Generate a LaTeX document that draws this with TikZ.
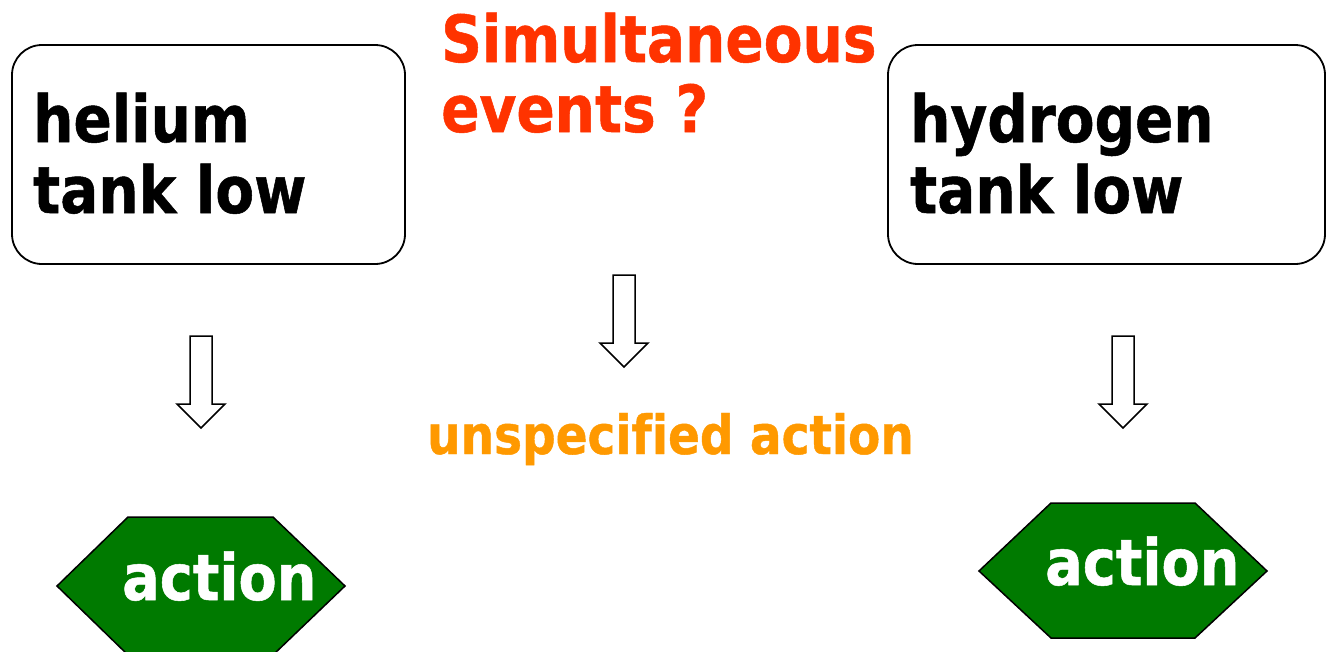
\documentclass[tikz,border=0pt]{standalone}
\usepackage{fontspec}
\newfontfamily\slidefont{DejaVu Sans}[FakeStretch=0.87, Ligatures=NoCommon, BoldFeatures={FakeBold=0.8}]
\definecolor{titlered}{HTML}{FF3300}
\definecolor{notered}{HTML}{FF9900}
\definecolor{actgreen}{HTML}{007A00}
\tikzset{
  eventbox/.style={draw=black, line width=1.8pt, rounded corners=30pt},
  eventtext/.style={anchor=base west, inner sep=0pt, align=left,
    font=\slidefont\bfseries\fontsize{65}{71}\selectfont},
  titletext/.style={anchor=base west, inner sep=0pt, align=left, text=titlered,
    font=\slidefont\bfseries\fontsize{65}{70}\selectfont},
  notetext/.style={anchor=base west, inner sep=0pt, text=notered,
    font=\slidefont\bfseries\fontsize{54}{60}\selectfont},
  hexshape/.style={draw=black, line width=1.5pt, fill=actgreen},
  acttext/.style={anchor=base west, inner sep=0pt, text=white,
    font=\slidefont\bfseries\fontsize{64}{70}\selectfont},
  downarrow/.style={draw=black, line width=1.5pt, fill=white},
  pics/blockdown/.style={code={
    \path[downarrow] (-11,0) -- (11,0) -- (11,68) -- (24,68) -- (0,92)
      -- (-24,68) -- (-11,68) -- cycle;
  }}
}
\begin{document}
\begin{tikzpicture}[x=1pt, y=-1pt]
  \useasboundingbox (0,0) rectangle (1326,651);

  % event boxes
  \draw[eventbox] (12,45) rectangle (405,264);
  \node[eventtext] (helium) at (33,213) {helium\\tank low};
  \draw[eventbox] (888,45) rectangle (1325,264);
  \node[eventtext] (hydrogen) at (910,213) {hydrogen\\tank low};

  % question in the middle
  \node[titletext] (question) at (441,132) {Simultaneous\\events ?};

  % block arrows
  \pic at (201,336) {blockdown};
  \pic at (624,275) {blockdown};
  \pic at (1123,336) {blockdown};

  \node[notetext] (unspec) at (427,454) {unspecified action};

  % action hexagons
  \path[hexshape] (57,586) -- (128,517) -- (273,517) -- (345,586)
    -- (273,655) -- (128,655) -- cycle;
  \node[acttext] (actleft) at (122,600) {action};
  \path[hexshape] (979,571) -- (1051,503) -- (1195,503) -- (1267,571)
    -- (1195,638) -- (1051,638) -- cycle;
  \node[acttext] (actright) at (1045,585) {action};
\end{tikzpicture}
\end{document}
